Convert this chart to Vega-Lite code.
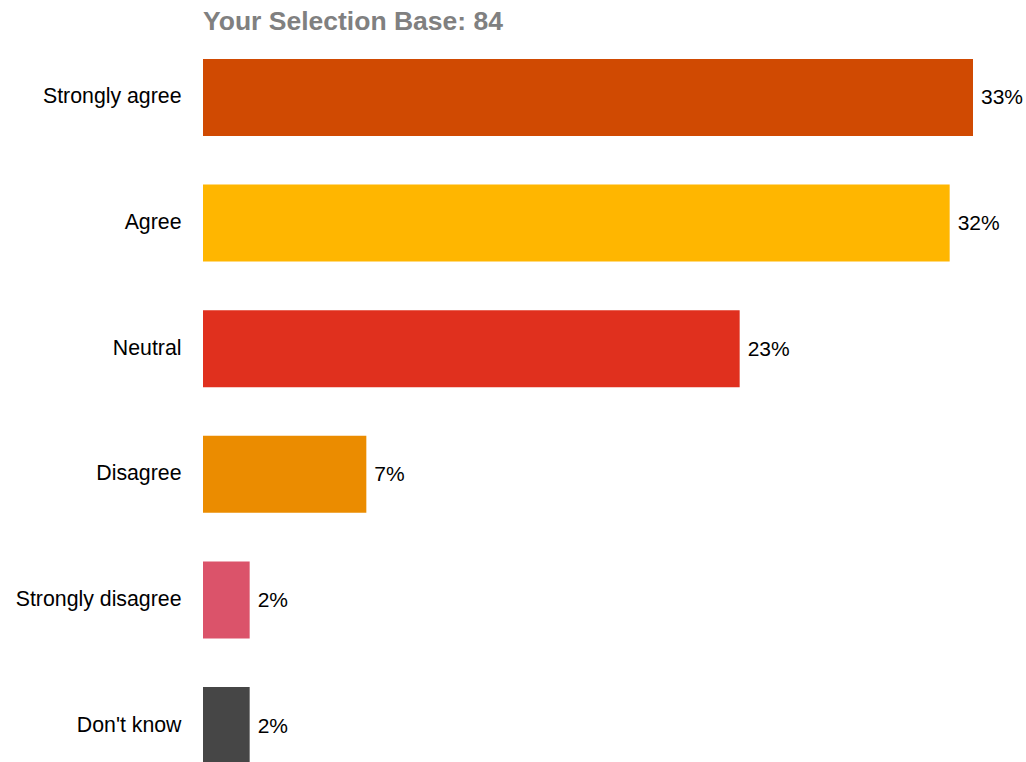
{
  "$schema": "https://vega.github.io/schema/vega-lite/v6.json",
  "autosize": "none",
  "padding": {"left": 203, "top": 59, "right": 53, "bottom": 0},
  "width": 770,
  "height": 705,
  "background": "white",
  "title": {
    "text": "Your Selection Base: 84",
    "anchor": "start",
    "frame": "group",
    "font": "Liberation Sans",
    "fontSize": 26.5,
    "fontWeight": "bold",
    "color": "#808080",
    "offset": 24
  },
  "config": {"view": {"stroke": null}},
  "data": {
    "values": [
      {"response": "Strongly agree", "pct": 0.33, "color": "#D04A02"},
      {"response": "Agree", "pct": 0.32, "color": "#FFB600"},
      {"response": "Neutral", "pct": 0.23, "color": "#E0301E"},
      {"response": "Disagree", "pct": 0.07, "color": "#EB8C00"},
      {"response": "Strongly disagree", "pct": 0.02, "color": "#DB536A"},
      {"response": "Don't know", "pct": 0.02, "color": "#464646"}
    ]
  },
  "encoding": {
    "y": {
      "field": "response",
      "type": "nominal",
      "sort": null,
      "scale": {"paddingInner": 0.387, "paddingOuter": 0},
      "axis": {
        "title": null,
        "domain": false,
        "ticks": false,
        "labelFont": "Liberation Sans",
        "labelFontSize": 21.3,
        "labelColor": "#000000",
        "labelPadding": 22,
        "labelLimit": 300
      }
    },
    "x": {
      "field": "pct",
      "type": "quantitative",
      "scale": {"domain": [0, 0.33], "nice": false},
      "axis": null
    }
  },
  "layer": [
    {
      "mark": {"type": "bar"},
      "encoding": {
        "color": {"field": "color", "type": "nominal", "scale": null}
      }
    },
    {
      "mark": {
        "type": "text",
        "align": "left",
        "baseline": "middle",
        "dx": 8,
        "dy": 1,
        "font": "Liberation Sans",
        "fontSize": 21,
        "color": "#000000"
      },
      "encoding": {
        "text": {"field": "pct", "type": "quantitative", "format": ".0%"}
      }
    }
  ]
}
